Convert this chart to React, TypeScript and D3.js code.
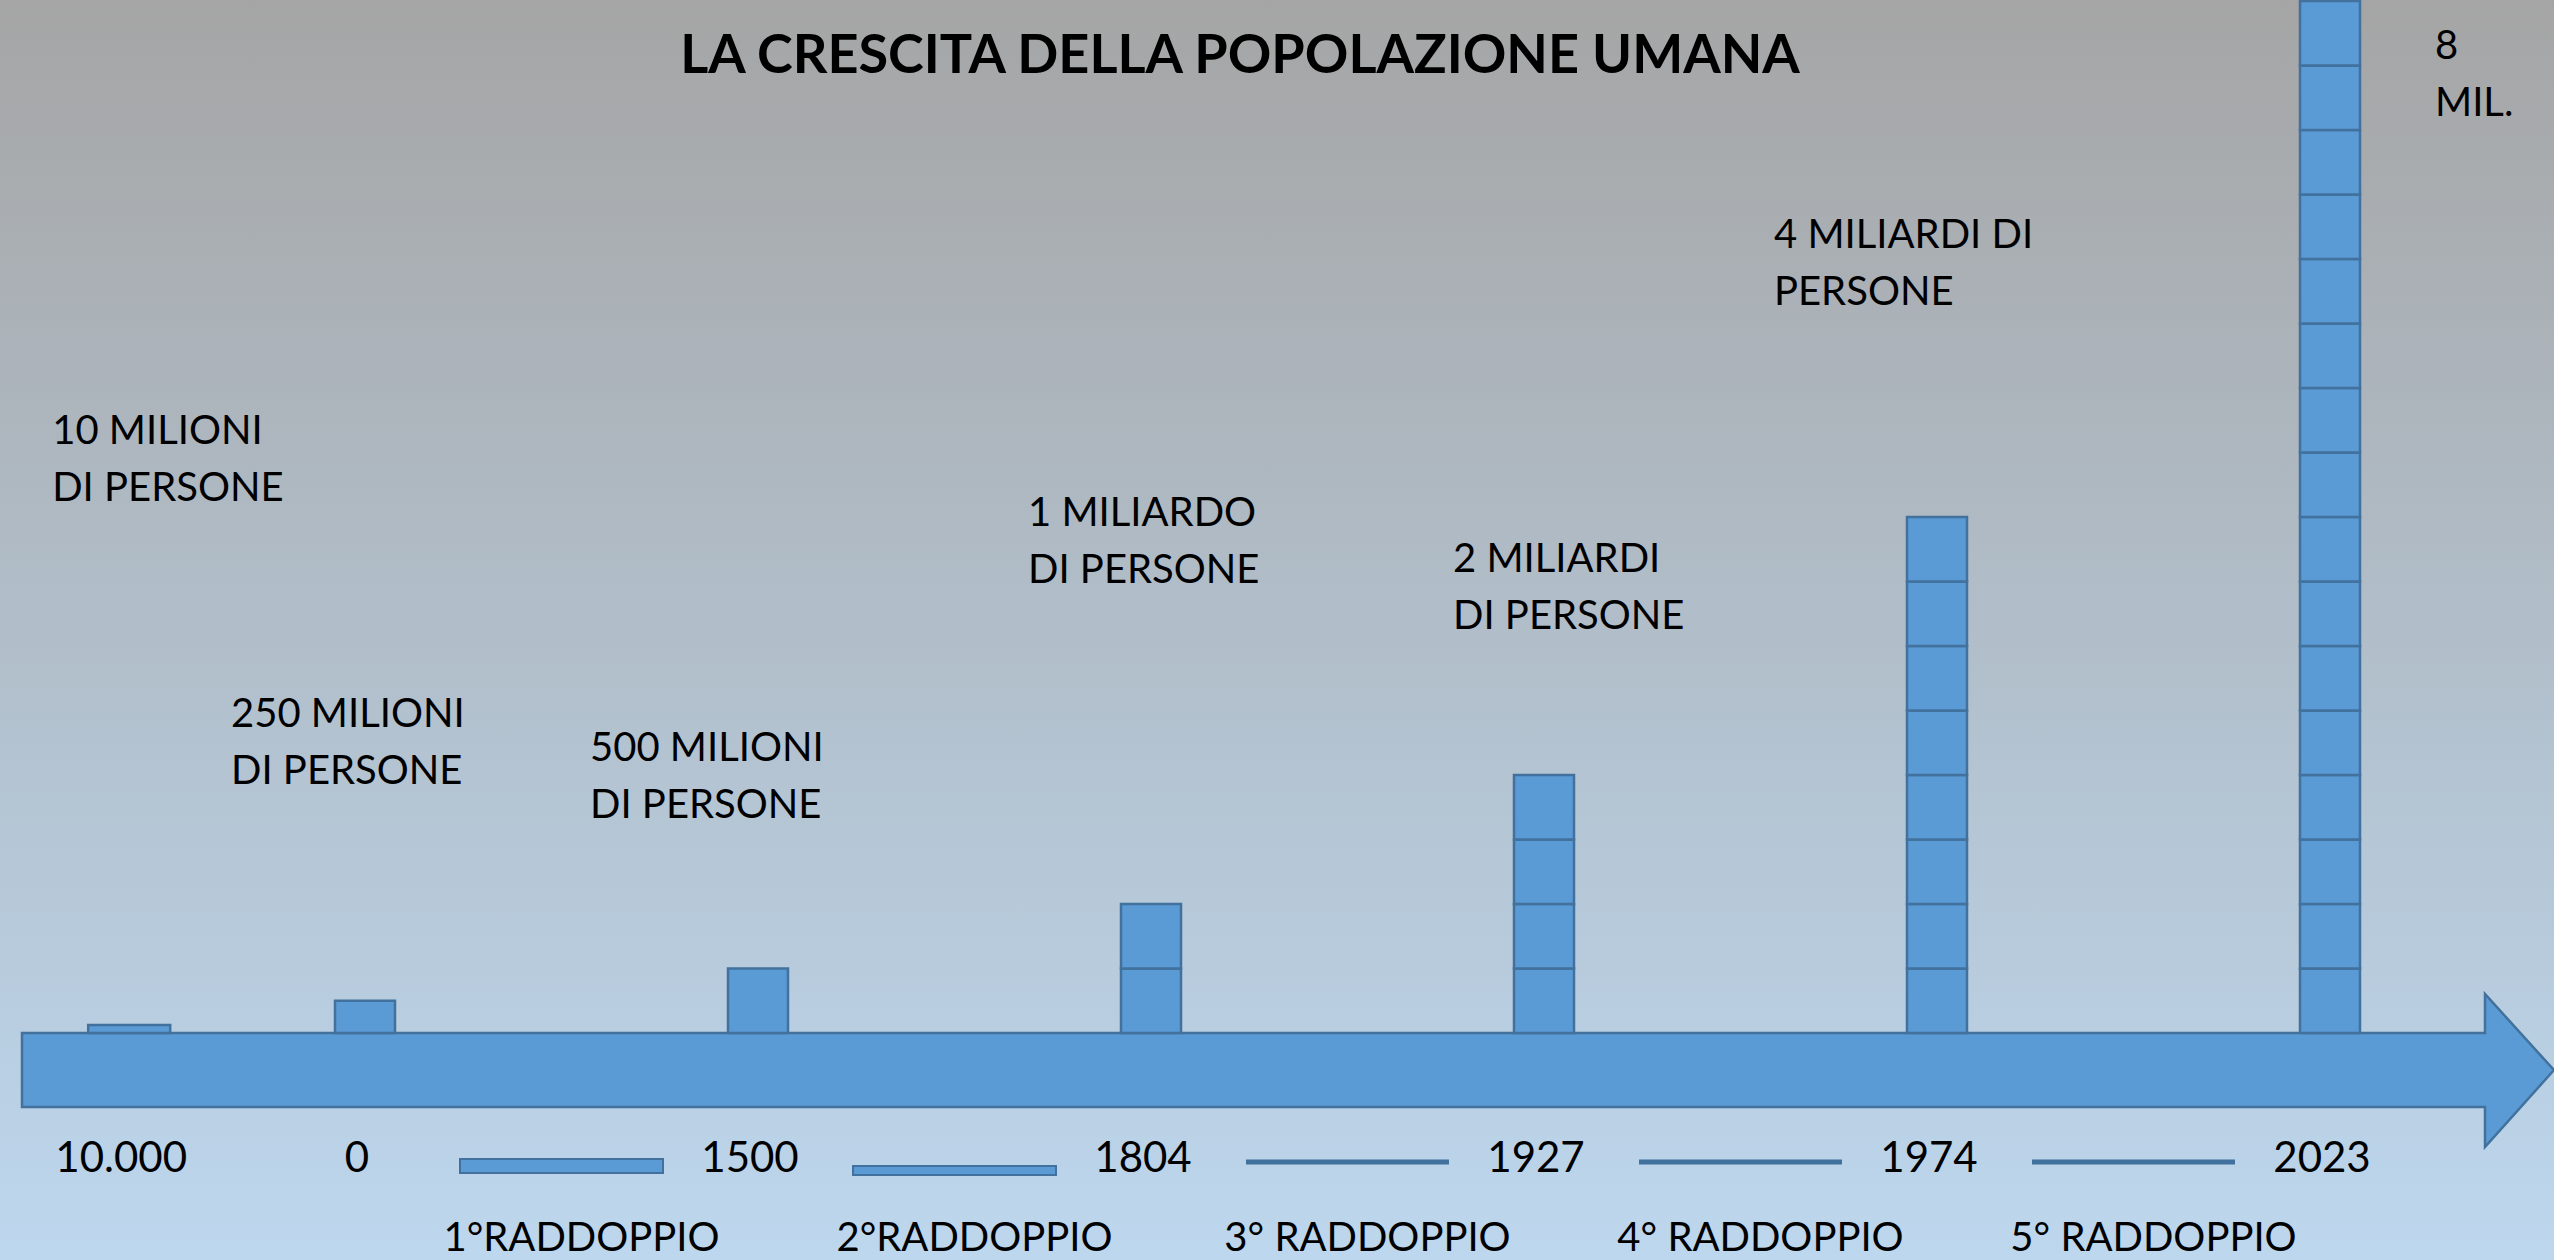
import React, { useEffect, useRef } from "react";
import * as d3 from "d3";

const title = "LA CRESCITA DELLA POPOLAZIONE UMANA";
// eras along the timeline arrow
const years = ["10.000", "0", "1500", "1804", "1927", "1974", "2023"];
// world population, millions of people
const population = [10, 250, 500, 1000, 2000, 4000, 8000];
const popLabels = [
  ["10 MILIONI", "DI PERSONE"],
  ["250 MILIONI", "DI PERSONE"],
  ["500 MILIONI", "DI PERSONE"],
  ["1 MILIARDO", "DI PERSONE"],
  ["2 MILIARDI", "DI PERSONE"],
  ["4 MILIARDI DI", "PERSONE"],
  ["8", "MIL."],
];
const doublings = [
  "1°RADDOPPIO",
  "2°RADDOPPIO",
  "3° RADDOPPIO",
  "4° RADDOPPIO",
  "5° RADDOPPIO",
];
const blockSize = 500; // one square = 500 million people

const W = 2554;
const H = 1260;
const FONT = "Lato, 'Open Sans', sans-serif";
const FILL = "#5B9BD5";
const EDGE = "#41719C";

// where each population caption sits, relative to its column
const labelPos = [
  { dx: -77, y: 444 },
  { dx: -134, y: 727 },
  { dx: -168, y: 761 },
  { dx: -123, y: 526 },
  { dx: -91, y: 572 },
  { dx: -163, y: 248 },
  { dx: 105, y: 59 },
];

const App = () => {
  const svgRef = useRef<SVGSVGElement | null>(null);

  useEffect(() => {
    const svg = d3.select(svgRef.current);
    svg.selectAll("*").remove();
    svg.attr("width", W).attr("height", H);

    const baseY = 1033; // top of the arrow shaft
    const shaftBottom = 1107;

    const x = d3
      .scalePoint<string>()
      .domain(years.slice(1))
      .range([365, 2330]);
    // the first era sits a short step before year 0 (no doubling between them)
    const xAt = (i: number) =>
      i === 0 ? x(years[1])! - x.step() * 0.6 : x(years[i])!;

    const y = d3
      .scaleLinear()
      .domain([0, d3.max(population)!])
      .range([baseY, 1]);

    // background gradient
    const defs = svg.append("defs");
    const grad = defs
      .append("linearGradient")
      .attr("id", "bg")
      .attr("x1", 0)
      .attr("y1", 0)
      .attr("x2", 0)
      .attr("y2", 1);
    grad.append("stop").attr("offset", "0%").attr("stop-color", "#A5A5A5");
    grad.append("stop").attr("offset", "100%").attr("stop-color", "#BDD7EE");
    svg
      .append("rect")
      .attr("width", W)
      .attr("height", H)
      .attr("fill", "url(#bg)");

    // title
    svg
      .append("text")
      .attr("x", 1240)
      .attr("y", 73)
      .attr("text-anchor", "middle")
      .attr("font-family", FONT)
      .attr("font-weight", 700)
      .attr("font-size", 54)
      .attr("fill", "#000")
      .text(title);

    // timeline arrow
    const headX = 2485;
    const arrow = [
      [22, baseY],
      [headX, baseY],
      [headX, 994],
      [W, (baseY + shaftBottom) / 2],
      [headX, 1147],
      [headX, shaftBottom],
      [22, shaftBottom],
    ] as [number, number][];
    svg
      .append("path")
      .attr("d", d3.line()(arrow) + "Z")
      .attr("fill", FILL)
      .attr("stroke", EDGE)
      .attr("stroke-width", 2.5);

    // population blocks, one square per 500 million
    const blocks = population.flatMap((p, i) =>
      p < blockSize
        ? [{ i, v0: 0, v1: p }]
        : d3.range(p / blockSize).map((k) => ({
            i,
            v0: k * blockSize,
            v1: (k + 1) * blockSize,
          }))
    );
    svg
      .append("g")
      .selectAll("rect")
      .data(blocks)
      .join("rect")
      .attr("x", (d) => xAt(d.i) - (d.i === 0 ? 41 : 30))
      .attr("width", (d) => (d.i === 0 ? 82 : 60))
      .attr("y", (d) => Math.min(y(d.v1), y(d.v0) - 8))
      .attr("height", (d) => Math.max(y(d.v0) - y(d.v1), 8))
      .attr("fill", FILL)
      .attr("stroke", EDGE)
      .attr("stroke-width", 2.5);

    // population captions
    popLabels.forEach((lines, i) => {
      const t = svg
        .append("text")
        .attr("font-family", FONT)
        .attr("font-size", 40)
        .attr("fill", "#000");
      lines.forEach((line, k) => {
        t.append("tspan")
          .attr("x", xAt(i) + labelPos[i].dx)
          .attr("y", labelPos[i].y + k * 57)
          .text(line);
      });
    });

    // year labels under the arrow
    svg
      .append("g")
      .selectAll("text")
      .data(years)
      .join("text")
      .attr("x", (d, i) => xAt(i) - 8)
      .attr("y", 1172)
      .attr("text-anchor", "middle")
      .attr("font-family", FONT)
      .attr("font-size", 42)
      .attr("fill", "#000")
      .text((d) => d);

    // doubling markers between consecutive eras
    doublings.forEach((label, k) => {
      const a = xAt(k + 1) + 95;
      const b = xAt(k + 2) - 95;
      if (k < 2) {
        const h = k === 0 ? 14 : 9;
        svg
          .append("rect")
          .attr("x", a)
          .attr("y", k === 0 ? 1159 : 1166)
          .attr("width", b - a)
          .attr("height", h)
          .attr("fill", FILL)
          .attr("stroke", EDGE)
          .attr("stroke-width", 2);
      } else {
        svg
          .append("line")
          .attr("x1", a)
          .attr("x2", b)
          .attr("y1", 1162)
          .attr("y2", 1162)
          .attr("stroke", EDGE)
          .attr("stroke-width", 5);
      }
      svg
        .append("text")
        .attr("x", (xAt(k + 1) + xAt(k + 2)) / 2 + 20)
        .attr("y", 1251)
        .attr("text-anchor", "middle")
        .attr("font-family", FONT)
        .attr("font-size", 40)
        .attr("fill", "#000")
        .text(label);
    });
  }, []);

  return (
    <svg
      ref={svgRef}
      style={{ position: "absolute", left: 0, top: 0, display: "block" }}
    />
  );
};

export default App;
